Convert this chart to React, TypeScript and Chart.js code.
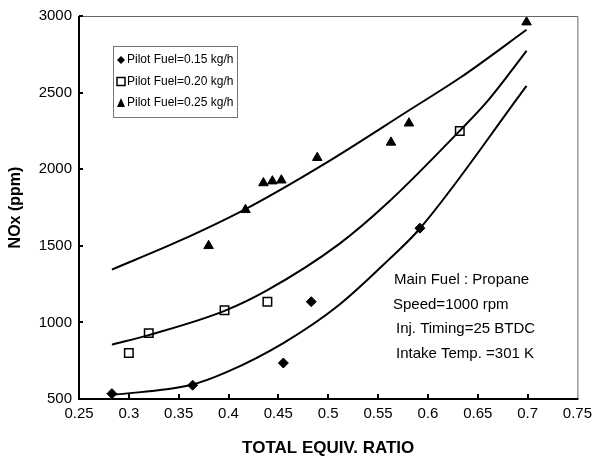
import { useEffect, useRef } from "react";
import { Chart, registerables } from "chart.js";

Chart.register(...registerables);

// Measured points
const ratio015 = [0.283, 0.364, 0.455, 0.483, 0.592];
const nox015 = [535, 590, 735, 1135, 1615];
const ratio020 = [0.3, 0.32, 0.396, 0.439, 0.632];
const nox020 = [800, 930, 1080, 1135, 2250];
const ratio025 = [0.38, 0.417, 0.435, 0.444, 0.453, 0.489, 0.563, 0.581, 0.699];
const nox025 = [1500, 1735, 1910, 1922, 1928, 2075, 2175, 2300, 2960];

// Fitted trend curves
const fitRatio015 = [0.283, 0.362, 0.398, 0.455, 0.5105, 0.56, 0.592, 0.699];
const fitNox015 = [526, 591, 675, 865, 1112, 1405, 1613, 2544];
const fitRatio020 = [0.283, 0.32, 0.396, 0.439, 0.5105, 0.56, 0.632, 0.66, 0.699];
const fitNox020 = [855, 917, 1075, 1210, 1509, 1782, 2251, 2446, 2772];
const fitRatio025 = [0.283, 0.35, 0.417, 0.5, 0.58, 0.633, 0.699];
const fitNox025 = [1345, 1530, 1740, 2050, 2380, 2600, 2910];

const xTicks = [0.25, 0.3, 0.35, 0.4, 0.45, 0.5, 0.55, 0.6, 0.65, 0.7, 0.75];
const yTicks = [500, 1000, 1500, 2000, 2500, 3000];

const legendLabels = ["Pilot Fuel=0.15 kg/h", "Pilot Fuel=0.20 kg/h", "Pilot Fuel=0.25 kg/h"];
const noteLines = ["Main Fuel : Propane", "Speed=1000 rpm", "Inj. Timing=25 BTDC", "Intake Temp. =301 K"];

const FONT = "'Liberation Sans', Arial, sans-serif";

const toXY = (xs: number[], ys: number[]) => xs.map((x, i) => ({ x, y: ys[i] }));

function drawMarker(ctx: CanvasRenderingContext2D, kind: number, cx: number, cy: number, s: number) {
  ctx.beginPath();
  if (kind === 0) {
    ctx.moveTo(cx, cy - s);
    ctx.lineTo(cx + s, cy);
    ctx.lineTo(cx, cy + s);
    ctx.lineTo(cx - s, cy);
    ctx.closePath();
    ctx.fillStyle = "#000";
    ctx.fill();
  } else if (kind === 1) {
    ctx.rect(cx - s, cy - s, 2 * s, 2 * s);
    ctx.fillStyle = "#fff";
    ctx.fill();
    ctx.lineWidth = 1.5;
    ctx.strokeStyle = "#000";
    ctx.stroke();
  } else {
    ctx.moveTo(cx, cy - s - 1);
    ctx.lineTo(cx + s, cy + s);
    ctx.lineTo(cx - s, cy + s);
    ctx.closePath();
    ctx.fillStyle = "#000";
    ctx.fill();
  }
}

const framePlugin = {
  id: "frame",
  afterDraw(chart: any) {
    const { ctx, chartArea, scales } = chart;
    const { left, right, top, bottom } = chartArea;
    const xs = scales.x;
    const ys = scales.y;
    ctx.save();
    // thin top/right frame
    ctx.strokeStyle = "#666";
    ctx.lineWidth = 1;
    ctx.beginPath();
    ctx.moveTo(left, top + 0.5);
    ctx.lineTo(right + 0.5, top + 0.5);
    ctx.lineTo(right + 0.5, bottom);
    ctx.stroke();
    // thick left/bottom axes
    ctx.strokeStyle = "#000";
    ctx.lineWidth = 2;
    ctx.beginPath();
    ctx.moveTo(left, top);
    ctx.lineTo(left, bottom);
    ctx.lineTo(right + 1, bottom);
    ctx.stroke();
    // inward ticks
    ctx.beginPath();
    yTicks.slice(1).forEach((v) => {
      const py = Math.round(ys.getPixelForValue(v));
      ctx.moveTo(left, py);
      ctx.lineTo(left + 4, py);
    });
    xTicks.slice(1, -1).forEach((v) => {
      const px = Math.round(xs.getPixelForValue(v));
      ctx.moveTo(px, bottom);
      ctx.lineTo(px, bottom - 5);
    });
    ctx.stroke();

    // legend box
    const bx = left + 34;
    const by = top + 30;
    ctx.strokeStyle = "#777";
    ctx.lineWidth = 1;
    ctx.strokeRect(bx + 0.5, by + 0.5, 124, 71);
    ctx.font = `12px ${FONT}`;
    ctx.textBaseline = "middle";
    ctx.textAlign = "left";
    legendLabels.forEach((lab, i) => {
      const cy = by + 14 + i * 21.5;
      drawMarker(ctx, i, bx + 8, cy, 4);
      ctx.fillStyle = "#000";
      ctx.fillText(lab, bx + 14, cy);
    });

    // notes
    ctx.font = `15px ${FONT}`;
    ctx.textBaseline = "alphabetic";
    ctx.fillStyle = "#000";
    const offs = [0, -1, 2, 2];
    noteLines.forEach((t, i) => {
      ctx.fillText(t, left + 315 + offs[i], top + 268 + i * 24.7);
    });
    ctx.restore();
  },
};

export default function App() {
  const ref = useRef<HTMLCanvasElement | null>(null);

  useEffect(() => {
    if (!ref.current) return;
    const lineDs = (xs: number[], ys: number[]) => ({
      type: "line" as const,
      data: toXY(xs, ys),
      borderColor: "#000",
      borderWidth: 2,
      pointRadius: 0,
      fill: false,
      cubicInterpolationMode: "monotone" as const,
      showLine: true,
    });
    const chart = new Chart(ref.current, {
      type: "scatter",
      data: {
        datasets: [
          lineDs(fitRatio015, fitNox015),
          lineDs(fitRatio020, fitNox020),
          lineDs(fitRatio025, fitNox025),
          {
            label: legendLabels[0],
            data: toXY(ratio015, nox015),
            pointStyle: "rectRot",
            pointRadius: 5,
            backgroundColor: "#000",
            borderColor: "#000",
            borderWidth: 1,
          },
          {
            label: legendLabels[1],
            data: toXY(ratio020, nox020),
            pointStyle: "rect",
            pointRadius: 6,
            backgroundColor: "#fff",
            borderColor: "#000",
            borderWidth: 1.5,
          },
          {
            label: legendLabels[2],
            data: toXY(ratio025, nox025),
            pointStyle: "triangle",
            pointRadius: 5.5,
            backgroundColor: "#000",
            borderColor: "#000",
            borderWidth: 1,
          },
        ] as any,
      },
      options: {
        responsive: false,
        animation: false,
        layout: { padding: { left: 0, top: 15, right: 18, bottom: 0 } },
        plugins: { legend: { display: false }, tooltip: { enabled: false } },
        scales: {
          x: {
            type: "linear",
            min: 0.25,
            max: 0.75,
            afterBuildTicks: (s: any) => {
              s.ticks = xTicks.map((v) => ({ value: v }));
            },
            afterFit: (s: any) => {
              s.height = 61;
            },
            grid: { display: false, drawTicks: false },
            border: { display: false },
            ticks: {
              color: "#000",
              padding: 6,
              maxRotation: 0,
              autoSkip: false,
              font: { family: FONT, size: 15 },
              callback: (v: any) => String(Number(Number(v).toFixed(2))),
            },
            title: {
              display: true,
              text: "TOTAL EQUIV. RATIO",
              color: "#000",
              padding: 1,
              font: { family: FONT, size: 17, weight: "bold" },
            },
          },
          y: {
            type: "linear",
            min: 500,
            max: 3000,
            afterBuildTicks: (s: any) => {
              s.ticks = yTicks.map((v) => ({ value: v }));
            },
            afterFit: (s: any) => {
              s.width = 79;
            },
            grid: { display: false, drawTicks: false },
            border: { display: false },
            ticks: {
              color: "#000",
              padding: 7,
              font: { family: FONT, size: 15 },
              callback: (v: any) => String(v),
            },
            title: {
              display: true,
              text: "NOx (ppm)",
              color: "#000",
              padding: 6,
              font: { family: FONT, size: 16, weight: "bold" },
            },
          },
        },
      },
      plugins: [framePlugin],
    });
    return () => chart.destroy();
  }, []);

  return (
    <div style={{ position: "absolute", left: 0, top: 0, width: 598, height: 460, background: "#fff" }}>
      <canvas ref={ref} width={598} height={460} style={{ display: "block" }} />
    </div>
  );
}
